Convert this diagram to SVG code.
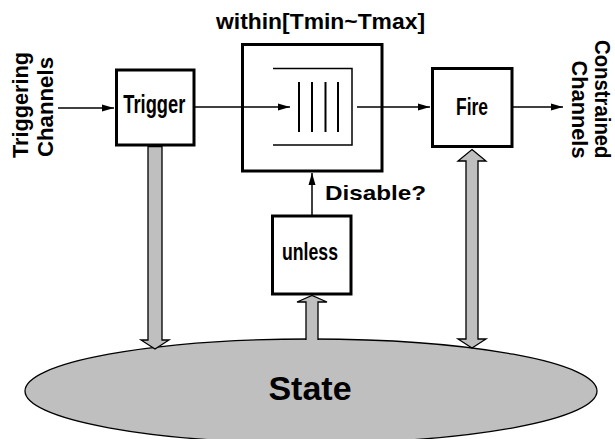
<svg xmlns="http://www.w3.org/2000/svg" width="615" height="439" viewBox="0 0 615 439">
<style>
.box{fill:#fff;stroke:#000;stroke-width:3}
.ln{stroke:#000;stroke-width:1.5;fill:none}
.blk{fill:#bfbfbf;stroke:#000;stroke-width:1.3;stroke-linejoin:miter}
.t{font-family:"Liberation Sans",Arial,sans-serif;font-weight:bold;fill:#000}
</style>
<defs>
<marker id="ah" markerUnits="userSpaceOnUse" markerWidth="13" markerHeight="8" refX="12" refY="4" orient="auto">
<path d="M0,0.5 L12,4 L0,7.5 z" fill="#000"/>
</marker>
</defs>
<rect width="615" height="439" fill="#fff"/>

<g id="state">
<ellipse cx="311" cy="391" rx="286" ry="52" class="blk" stroke-width="1.5"/>
<text class="t" x="310" y="400" font-size="34" text-anchor="middle">State</text>
</g>

<g id="trigger">
<rect class="box" x="116.5" y="70" width="77.5" height="75"/>
<text class="t" x="123.3" y="113.3" font-size="25" textLength="62" lengthAdjust="spacingAndGlyphs">Trigger</text>
</g>

<g id="within">
<rect class="box" x="242.5" y="44.5" width="139.5" height="126.5"/>
<path class="ln" d="M273,68.5 H352 V145 H273"/>
<g stroke="#000" stroke-width="2">
<line x1="299" y1="82" x2="299" y2="132"/>
<line x1="312" y1="82" x2="312" y2="132"/>
<line x1="325.5" y1="82" x2="325.5" y2="132"/>
<line x1="338" y1="82" x2="338" y2="132"/>
</g>
<text class="t" x="216" y="29.3" font-size="22" textLength="209" lengthAdjust="spacingAndGlyphs">within[Tmin~Tmax]</text>
</g>

<g id="fire">
<rect class="box" x="432.5" y="68.5" width="79.5" height="78"/>
<text class="t" x="456" y="115" font-size="24" textLength="32" lengthAdjust="spacingAndGlyphs">Fire</text>
</g>

<g id="unless">
<rect class="box" x="272.5" y="216" width="78.5" height="78"/>
<text class="t" x="282" y="260" font-size="24" textLength="56" lengthAdjust="spacingAndGlyphs">unless</text>
</g>

<g id="triggering-channels">
<g transform="translate(27.7,158) rotate(-90)">
<text class="t" x="0" y="0" font-size="22" textLength="106" lengthAdjust="spacingAndGlyphs">Triggering</text>
<text class="t" x="1" y="25.3" font-size="22" textLength="100" lengthAdjust="spacingAndGlyphs">Channels</text>
</g>
</g>

<g id="constrained-channels">
<g transform="translate(595,158.5) rotate(90)">
<text class="t" x="-118.5" y="0" font-size="22" textLength="118.5" lengthAdjust="spacingAndGlyphs">Constrained</text>
<text class="t" x="-98" y="23" font-size="22" textLength="98" lengthAdjust="spacingAndGlyphs">Channels</text>
</g>
</g>

<g id="connectors">
<line class="ln" x1="58" y1="108" x2="114" y2="108" marker-end="url(#ah)"/>
<line class="ln" x1="195" y1="107" x2="290" y2="107" marker-end="url(#ah)"/>
<line class="ln" x1="357" y1="107" x2="430" y2="107" marker-end="url(#ah)"/>
<line class="ln" x1="513" y1="107" x2="563" y2="107" marker-end="url(#ah)"/>
<line class="ln" x1="312" y1="215" x2="312" y2="173" marker-end="url(#ah)"/>
<text class="t" x="325" y="200" font-size="21" textLength="101" lengthAdjust="spacingAndGlyphs">Disable?</text>
<polygon class="blk" points="148,146.5 162,146.5 162,340 169,340 155,349 141,340 148,340"/>
<path class="blk" d="M306,340 V302 H297 L312,295.5 L327,302 H318 V340"/>
<polygon class="blk" points="472,149.5 486,161 478,161 478,339 486,339 472,348 458,339 466,339 466,161 458,161"/>
</g>
</svg>
